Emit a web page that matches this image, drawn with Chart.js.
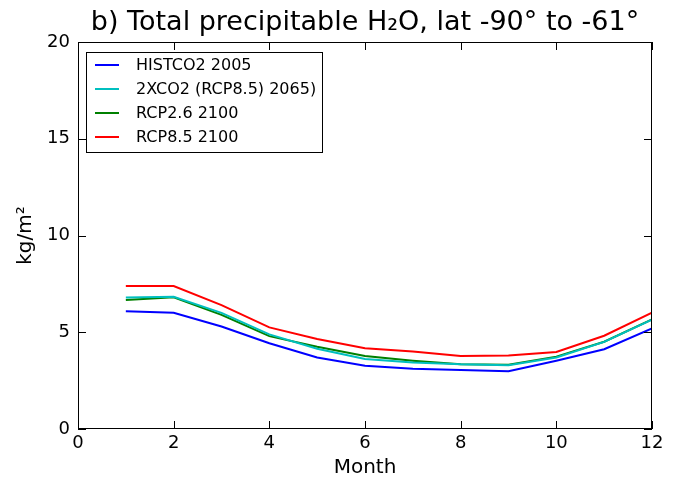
<!DOCTYPE html>
<html lang="en">
<head>
  <meta charset="UTF-8" />
  <title>Total precipitable H2O</title>
  <style>
    body { margin: 0; padding: 0; background: #fff; }
    #wrap { width: 680px; height: 484px; }
  </style>
</head>
<body>
  <div id="wrap"><canvas id="grafico" width="680" height="484"></canvas></div>

  <script src="https://cdn.jsdelivr.net/npm/chart.js"></script>
  <script>
    const meses = [1, 2, 3, 4, 5, 6, 7, 8, 9, 10, 11, 12];
    const histco2 = [6.08, 6.01, 5.3, 4.43, 3.7, 3.27, 3.12, 3.05, 2.98, 3.53, 4.12, 5.2];
    const xco2 = [6.79, 6.83, 6.0, 4.89, 4.15, 3.62, 3.44, 3.34, 3.3, 3.7, 4.5, 5.65];
    const rcp26 = [6.67, 6.81, 5.9, 4.8, 4.25, 3.77, 3.53, 3.34, 3.32, 3.74, 4.51, 5.67];
    const rcp85 = [7.39, 7.39, 6.4, 5.25, 4.65, 4.17, 4.0, 3.77, 3.8, 3.98, 4.82, 6.01];
    const nomes = ["HISTCO2 2005", "2XCO2 (RCP8.5) 2065)", "RCP2.6 2100", "RCP8.5 2100"];
    const cores = ["#0000ff", "#00bfbf", "#008000", "#ff0000"];
    const xTicks = [0, 2, 4, 6, 8, 10, 12];
    const yTicks = [0, 5, 10, 15, 20];

    const fonte = "'DejaVu Sans', sans-serif";

    function serie(valores) {
      return valores.map((v, i) => ({ x: meses[i], y: v }));
    }

    // ticks para dentro, titulo e legenda no estilo matplotlib
    const extras = {
      id: "extras",
      afterDraw(chart) {
        const ctx = chart.ctx;
        const a = chart.chartArea;
        const sx = chart.scales.x;
        const sy = chart.scales.y;
        ctx.save();
        ctx.strokeStyle = "#000";
        ctx.lineWidth = 1;
        ctx.strokeRect(a.left + 0.5, a.top + 0.5, a.right - a.left - 1, a.bottom - a.top - 1);
        ctx.beginPath();
        xTicks.forEach(t => {
          const px = Math.round(sx.getPixelForValue(t)) + 0.5;
          ctx.moveTo(px, a.bottom); ctx.lineTo(px, a.bottom - 8);
          ctx.moveTo(px, a.top); ctx.lineTo(px, a.top + 8);
        });
        yTicks.forEach(t => {
          const py = Math.round(sy.getPixelForValue(t)) + 0.5;
          ctx.moveTo(a.left, py); ctx.lineTo(a.left + 8, py);
          ctx.moveTo(a.right, py); ctx.lineTo(a.right - 8, py);
        });
        ctx.stroke();

        // titulo
        ctx.fillStyle = "#000";
        ctx.font = "27px " + fonte;
        ctx.textAlign = "center";
        ctx.textBaseline = "alphabetic";
        ctx.fillText("b) Total precipitable H\u2082O, lat -90\u00b0 to -61\u00b0", (a.left + a.right) / 2, 30);

        // legenda
        const lx = 86, ly = 52, lw = 236, lh = 100;
        ctx.fillStyle = "#fff";
        ctx.fillRect(lx, ly, lw, lh);
        ctx.strokeStyle = "#000";
        ctx.strokeRect(lx + 0.5, ly + 0.5, lw, lh);
        ctx.font = "16px " + fonte;
        ctx.textAlign = "left";
        ctx.textBaseline = "middle";
        chart.data.datasets.forEach((ds, i) => {
          const y = ly + 13 + i * 24;
          ctx.strokeStyle = ds.borderColor;
          ctx.lineWidth = 2;
          ctx.beginPath();
          ctx.moveTo(lx + 9, y); ctx.lineTo(lx + 33, y);
          ctx.stroke();
          ctx.fillStyle = "#000";
          ctx.fillText(ds.label, lx + 50, y + 1);
        });
        ctx.restore();
      }
    };

    new Chart(document.getElementById("grafico"), {
      type: "line",
      data: {
        datasets: [histco2, xco2, rcp26, rcp85].map((v, i) => ({
          label: nomes[i],
          data: serie(v),
          borderColor: cores[i],
          backgroundColor: cores[i],
          borderWidth: 2,
          pointRadius: 0,
          tension: 0
        }))
      },
      options: {
        responsive: false,
        animation: false,
        layout: { padding: { top: 42, right: 28, left: 0, bottom: 0 } },
        plugins: { legend: { display: false }, title: { display: false }, tooltip: { enabled: false } },
        scales: {
          x: {
            type: "linear",
            min: 0, max: 12,
            afterBuildTicks: s => { s.ticks = xTicks.map(v => ({ value: v })); },
            afterFit: s => { s.height = 55; },
            grid: { display: false, drawTicks: false },
            border: { display: false },
            ticks: { color: "#000", font: { family: fonte, size: 18 }, padding: 4, maxRotation: 0 },
            title: { display: true, text: "Month", color: "#000", font: { family: fonte, size: 20 }, padding: { top: 0, bottom: 4 } }
          },
          y: {
            type: "linear",
            min: 0, max: 20,
            afterBuildTicks: s => { s.ticks = yTicks.map(v => ({ value: v })); },
            afterFit: s => { s.width = 78; },
            grid: { display: false, drawTicks: false },
            border: { display: false },
            ticks: { color: "#000", font: { family: fonte, size: 18 }, padding: 8 },
            title: { display: true, text: "kg/m\u00b2", color: "#000", font: { family: fonte, size: 20 }, padding: { top: 14, bottom: 0 } }
          }
        }
      },
      plugins: [extras]
    });
  </script>
</body>
</html>
